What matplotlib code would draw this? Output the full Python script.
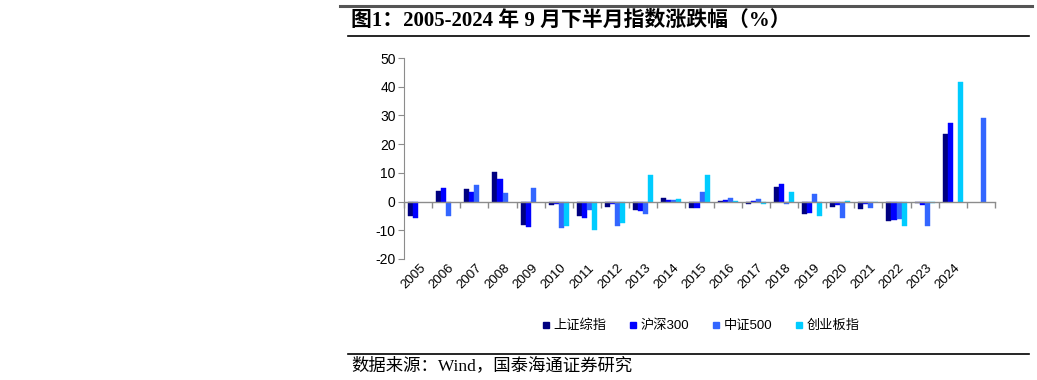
import numpy as np
import matplotlib
matplotlib.use("Agg")
import matplotlib.pyplot as plt
from matplotlib.lines import Line2D

# categories (last slot has no label in the original chart)
years = ["2005", "2006", "2007", "2008", "2009", "2010", "2011", "2012", "2013", "2014",
         "2015", "2016", "2017", "2018", "2019", "2020", "2021", "2022", "2023", "2024", ""]

nan = np.nan
sh_comp = [-5.1, 3.7, 4.5, 10.2, -8.3, -1.3, -5.1, -1.9, -2.8, 1.3,
           -2.1, 0.3, -0.7, 5.1, -4.2, -1.9, -2.6, -6.8, -0.5, 23.4, nan]
hs300 = [-5.6, 4.8, 3.4, 7.9, -8.8, -1.0, -5.6, -0.9, -3.3, 0.5,
         -2.4, 0.4, 0.1, 6.1, -4.0, -1.3, -0.8, -6.4, -1.2, 27.2, nan]
zz500 = [nan, -5.1, 5.7, 2.9, 4.8, -9.1, -2.9, -8.4, -4.2, 0.5,
         3.4, 1.2, 0.8, -1.0, 2.8, -5.8, -2.4, -6.1, -8.6, nan, 29.1]
cyb = [nan, nan, nan, nan, nan, -8.6, -9.8, -7.3, 9.2, 1.0,
       9.3, 0.2, -0.7, 3.3, -4.9, 0.1, -0.1, -8.6, -0.4, 41.8, nan]

series_names = ["上证综指", "沪深300", "中证500", "创业板指"]
series_vals = [sh_comp, hs300, zz500, cyb]
colors = ["#000080", "#0000FF", "#3366FF", "#00CCFF"]

plt.rcParams["font.family"] = ["Liberation Sans", "Noto Sans CJK SC"]
plt.rcParams["axes.unicode_minus"] = False

fig = plt.figure(figsize=(10.37, 3.80), dpi=100)
W, H = 1037, 380

ax = fig.add_axes([404 / W, 1 - 259 / H, 591 / W, 201 / H])

n = len(years)
x = np.arange(n) + 0.5
bw = 0.18
for k, (vals, c) in enumerate(zip(series_vals, colors)):
    ax.bar(x + (k - 1.5) * bw, vals, width=bw, color=c, label=series_names[k],
           edgecolor=c, linewidth=0.3)

ax.set_xlim(0, n)
ax.set_ylim(-20, 50)
ax.set_yticks(range(-20, 51, 10))

gray = "#8c8c8c"
for s in ["top", "right"]:
    ax.spines[s].set_visible(False)
ax.spines["left"].set_color(gray)
ax.spines["bottom"].set_position(("data", 0))
ax.spines["bottom"].set_color(gray)
ax.spines["bottom"].set_linewidth(1.0)
ax.set_xticks(np.arange(n + 1))
ax.set_xticklabels([])
ax.tick_params(axis="x", direction="out", length=4, color=gray, width=1.0)
ax.tick_params(axis="y", direction="out", length=4, color=gray, labelsize=10, pad=2)

for xi, lab in zip(x, years):
    ax.text(xi + 0.05, -21.0, lab, rotation=45, ha="right", va="top",
            rotation_mode="anchor", fontsize=9.5)

# legend
handles = [Line2D([], [], marker="s", linestyle="none", markersize=5,
                  markerfacecolor=c, markeredgecolor=c) for c in colors]
fig.legend(handles, series_names, loc="center", bbox_to_anchor=(700 / W, 1 - 326 / H),
           ncol=4, frameon=False, fontsize=9.5, handletextpad=0.2, columnspacing=1.6,
           handlelength=0.8)

# header / footer rules
fig.add_artist(Line2D([340 / W, 1032 / W], [1 - 6 / H] * 2, color="#555555", linewidth=2.2))
fig.add_artist(Line2D([348 / W, 1029 / W], [1 - 35.5 / H] * 2, color="black", linewidth=1.2))
fig.add_artist(Line2D([348 / W, 1029 / W], [1 - 354 / H] * 2, color="black", linewidth=1.2))

fig.text(351 / W, 1 - 21 / H, "图1：2005-2024 年 9 月下半月指数涨跌幅（%）",
         family=["Liberation Serif", "Noto Sans CJK SC"], fontweight="bold",
         fontsize=15, va="center", ha="left")
fig.text(351 / W, 1 - 366 / H, "数据来源：Wind，国泰海通证券研究",
         family=["Liberation Serif", "Noto Sans CJK SC"], fontsize=12.5,
         va="center", ha="left")

fig.savefig("out.png", dpi=100)
